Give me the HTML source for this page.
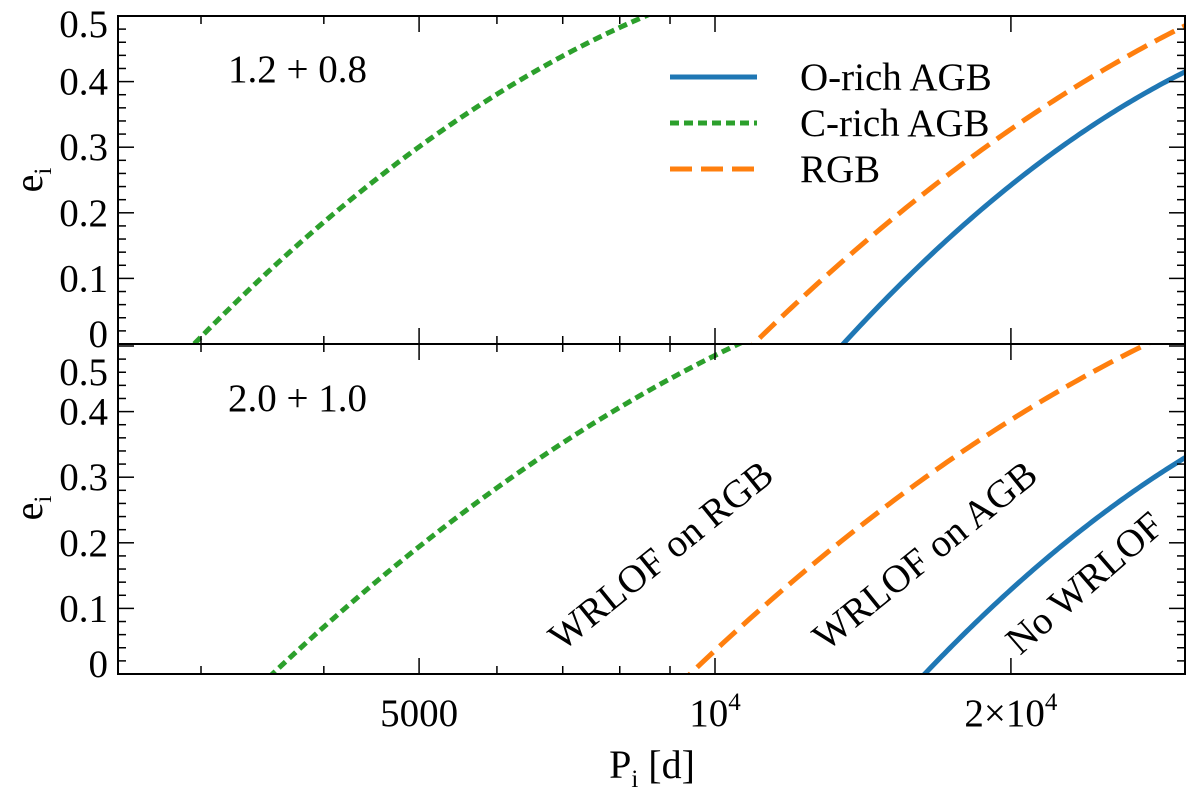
<!DOCTYPE html>
<html><head><meta charset="utf-8">
<style>
body{margin:0;background:#fff;}
svg{display:block;font-family:"Liberation Serif","DejaVu Serif",serif;}
</style></head>
<body>
<svg id="chart" width="1200" height="796" viewBox="0 0 1200 796" xmlns="http://www.w3.org/2000/svg"></svg>
<script>
// ----- data -----
const topCrichP = [2958, 3619, 4457, 5058, 5973, 7054, 8348];
const topCrichE = [0.0, 0.130, 0.245, 0.306, 0.378, 0.439, 0.497];
const topRgbP = [10981, 13625, 15679, 17880, 20290, 23680, 27700, 29930];
const topRgbE = [0.0, 0.137, 0.207, 0.276, 0.332, 0.398, 0.457, 0.485];
const topOrichP = [13494, 16670, 18740, 21060, 23680, 26620, 29930];
const topOrichE = [0.0, 0.137, 0.210, 0.268, 0.322, 0.373, 0.413];
const botCrichP = [3591, 4135, 4861, 5700, 6699, 7875, 9256, 10047];
const botCrichE = [0.003, 0.093, 0.184, 0.265, 0.331, 0.392, 0.453, 0.497];
const botRgbP = [9475, 10780, 12580, 14720, 17220, 20100, 23510, 27060];
const botRgbE = [0.003, 0.078, 0.169, 0.250, 0.326, 0.387, 0.444, 0.502];
const botOrichP = [16470, 18610, 20910, 23510, 26440, 29930];
const botOrichE = [0.003, 0.087, 0.159, 0.215, 0.270, 0.331];
const xTickVals = [5000, 10000, 20000];
const xTickLabels = ["5000", "10^4", "2×10^4"];
const xMinorVals = [3000, 4000, 6000, 7000, 8000, 9000];
const topYTicks = [0, 0.1, 0.2, 0.3, 0.4, 0.5];
const botYTicks = [0, 0.1, 0.2, 0.3, 0.4, 0.5];

const NS = "http://www.w3.org/2000/svg";
const svg = document.getElementById("chart");
const L = 118, R = 1185, FS = 39;
const xs = p => 715 + (Math.log10(p) - 4) * 983;
const topY = e => 344 - e * 656;
const botY = e => 674 - e * 656;
const C = {o:"#1f77b4", c:"#2ca02c", r:"#ff7f0e"};

function mk(tag, attrs, parent){
  const el = document.createElementNS(NS, tag);
  for (const k in attrs) el.setAttribute(k, attrs[k]);
  (parent||svg).appendChild(el);
  return el;
}

const defs = mk("defs", {});
const c1 = mk("clipPath", {id:"clipTop"}, defs); mk("rect",{x:L,y:16,width:R-L,height:328},c1);
const c2 = mk("clipPath", {id:"clipBot"}, defs); mk("rect",{x:L,y:344,width:R-L,height:330},c2);

// least-squares quadratic in log10(P) for a smooth curve through the read points
function fitQuad(P, E){
  const X = P.map(p=>Math.log10(p)-4);
  let S=[0,0,0,0,0], T=[0,0,0];
  X.forEach((x,i)=>{
    for(let k=0;k<5;k++) S[k]+=Math.pow(x,k);
    for(let k=0;k<3;k++) T[k]+=E[i]*Math.pow(x,k);
  });
  const M=[[S[0],S[1],S[2],T[0]],[S[1],S[2],S[3],T[1]],[S[2],S[3],S[4],T[2]]];
  for(let i=0;i<3;i++){
    for(let j=i+1;j<3;j++){
      const f=M[j][i]/M[i][i];
      for(let k=i;k<4;k++) M[j][k]-=f*M[i][k];
    }
  }
  const c=[0,0,0];
  for(let i=2;i>=0;i--){
    let s=M[i][3];
    for(let k=i+1;k<3;k++) s-=M[i][k]*c[k];
    c[i]=s/M[i][i];
  }
  return x=>c[0]+c[1]*x+c[2]*x*x;
}

function curve(P, E, ys, color, dash, clip, name){
  const f = fitQuad(P, E);
  const x0 = Math.log10(Math.min(...P))-4-0.04, x1 = Math.log10(Math.max(...P))-4+0.04;
  let d="";
  for(let i=0;i<=120;i++){
    const x = x0+(x1-x0)*i/120;
    const px = xs(Math.pow(10, x+4)), py = ys(f(x));
    d += (i?"L":"M")+px.toFixed(2)+","+py.toFixed(2);
  }
  const el = mk("path", {d, fill:"none", stroke:color, "stroke-width":5, "stroke-dasharray":dash, "clip-path":`url(#${clip})`});
  
  
}

curve(topCrichP, topCrichE, topY, C.c, "9,5", "clipTop", "top-c-rich-agb-line");
curve(topRgbP, topRgbE, topY, C.r, "22,9", "clipTop", "top-rgb-line");
curve(topOrichP, topOrichE, topY, C.o, "", "clipTop", "top-o-rich-agb-line");
curve(botCrichP, botCrichE, botY, C.c, "9,5", "clipBot", "bottom-c-rich-agb-line");
curve(botRgbP, botRgbE, botY, C.r, "22,9", "clipBot", "bottom-rgb-line");
curve(botOrichP, botOrichE, botY, C.o, "", "clipBot", "bottom-o-rich-agb-line");

mk("rect",{x:L,y:16,width:R-L,height:658,fill:"none",stroke:"#000","stroke-width":2,});
mk("line",{x1:L,y1:344,x2:R,y2:344,stroke:"#000","stroke-width":2,});

const panels = [[16,344],[344,674]];
xTickVals.forEach(v=>{
  const x=xs(v);
  panels.forEach(([t,b])=>{
    mk("line",{x1:x,y1:b,x2:x,y2:b-16,stroke:"#000","stroke-width":1.5});
    mk("line",{x1:x,y1:t,x2:x,y2:t+16,stroke:"#000","stroke-width":1.5});
  });
});
xMinorVals.forEach(v=>{
  const x=xs(v);
  panels.forEach(([t,b])=>{
    mk("line",{x1:x,y1:b,x2:x,y2:b-8,stroke:"#000","stroke-width":1.5});
    mk("line",{x1:x,y1:t,x2:x,y2:t+8,stroke:"#000","stroke-width":1.5});
  });
});
xTickLabels.forEach((lab,i)=>{
  const t = mk("text",{x:xs(xTickVals[i]),y:726,"text-anchor":"middle","font-size":FS});
  
  
  if (lab.includes("^")){
    const [base,exp]=lab.split("^");
    t.appendChild(document.createTextNode(base));
    const s = mk("tspan",{"font-size":25,dy:-16},t); s.textContent=exp;
  } else t.textContent=lab;
});

function yAxis(ticks, ys, top, bot, topShift, name){
  ticks.forEach(v=>{
    const y=ys(v);
    mk("line",{x1:L,y1:y,x2:L+16,y2:y,stroke:"#000","stroke-width":1.5});
    mk("line",{x1:R,y1:y,x2:R-16,y2:y,stroke:"#000","stroke-width":1.5});
    let cy = y;
    if (y <= top+4) cy = y + topShift;
    if (y >= bot-4) cy = y - 10;
    const t = mk("text",{x:108,y:cy+13,"text-anchor":"end","font-size":FS});
    
    
    t.textContent = v===0 ? "0" : v.toFixed(1);
  });
  for (let k=0; k<30; k++){
    if (k%5===0) continue;
    const y=ys(k*0.02); if (y<top+2||y>bot-2) continue;
    mk("line",{x1:L,y1:y,x2:L+8,y2:y,stroke:"#000","stroke-width":1.5});
    mk("line",{x1:R,y1:y,x2:R-8,y2:y,stroke:"#000","stroke-width":1.5});
  }
}
yAxis(topYTicks, topY, 16, 344, 8, "top-y");
yAxis(botYTicks, botY, 344, 674, 26, "bottom-y");

function txt(x,y,str,size,name,extra){
  const t = document.createElementNS(NS,"text");
  t.setAttribute("x",x); t.setAttribute("y",y); t.setAttribute("font-size",size);
  if (extra) for (const k in extra) t.setAttribute(k, extra[k]);
  t.innerHTML = str;
  
  
  svg.appendChild(t);
  return t;
}
txt(228,82,"1.2 + 0.8",FS,"top-panel-label");
txt(228,411,"2.0 + 1.0",FS,"bottom-panel-label");
txt(0,0,'e<tspan font-size="25" dy="9">i</tspan>',40,"top-y-axis-title",{transform:"translate(42,180) rotate(-90)","text-anchor":"middle"});
txt(0,0,'e<tspan font-size="25" dy="9">i</tspan>',40,"bottom-y-axis-title",{transform:"translate(42,508) rotate(-90)","text-anchor":"middle"});
txt(652,778,'P<tspan font-size="25" dy="9">i</tspan><tspan dy="-9"> [d]</tspan>',40,"x-axis-title",{"text-anchor":"middle"});
txt(0,0,"WRLOF on RGB",FS,"region-label-wrlof-rgb",{transform:"translate(562,652) rotate(-39)"});
txt(0,0,"WRLOF on AGB",FS,"region-label-wrlof-agb",{transform:"translate(826,652) rotate(-39)"});
txt(0,0,"No WRLOF",FS,"region-label-no-wrlof",{transform:"translate(1020,656) rotate(-41)"});
const leg=[["O-rich AGB","#1f77b4",""],["C-rich AGB","#2ca02c","9,5"],["RGB","#ff7f0e","22,9"]];
leg.forEach((l,i)=>{
  const y=77+i*46;
  const ln=mk("line",{x1:670,x2:757,y1:y,y2:y,stroke:l[1],"stroke-width":5});
  if(l[2]) ln.setAttribute("stroke-dasharray",l[2]);
  
  
  txt(800,y+13,l[0],FS,"legend-entry");
});
</script>
</body></html>
